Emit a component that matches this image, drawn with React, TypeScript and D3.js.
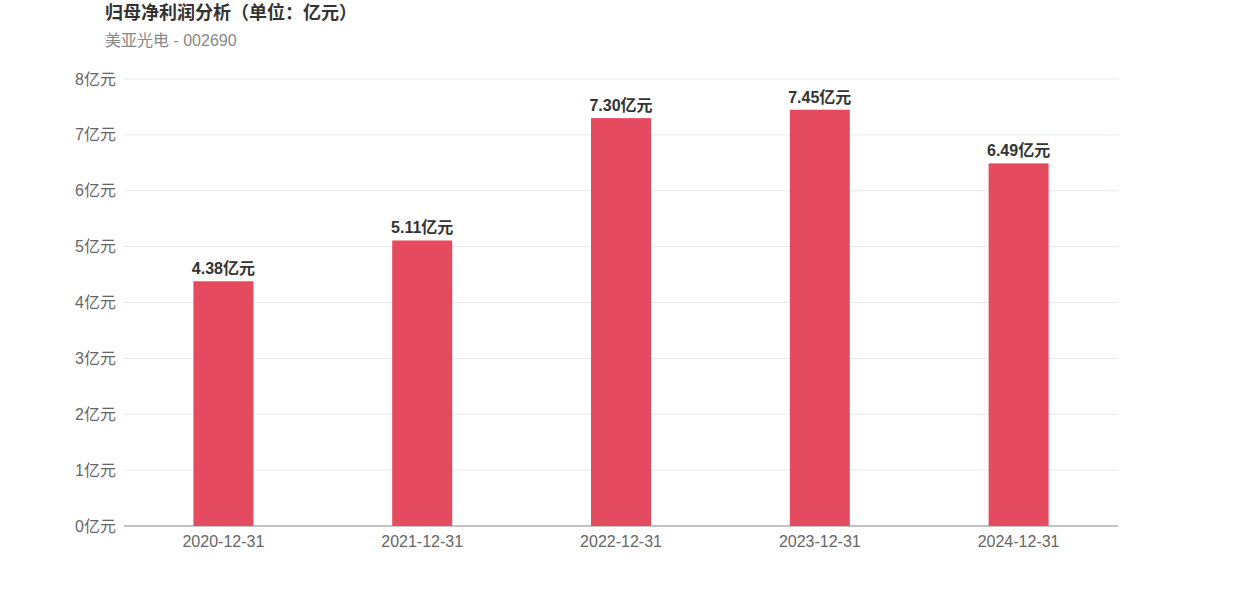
import React from "react";
import * as d3 from "d3";

const categories = ["2020-12-31", "2021-12-31", "2022-12-31", "2023-12-31", "2024-12-31"];
const values = [4.38, 5.11, 7.30, 7.45, 6.49];
const yTicks = [0, 1, 2, 3, 4, 5, 6, 7, 8];
const title = "归母净利润分析（单位：亿元）";
const subtitle = "美亚光电 - 002690";

const W = 1242, H = 596;
const FONT = "'Liberation Sans', Arial, 'Noto Sans CJK SC', sans-serif";

export default function App() {
  const x = d3.scaleBand<string>().domain(categories).range([124, 1118]).paddingInner(0.7).paddingOuter(0.35);
  const y = d3.scaleLinear().domain([0, 8]).range([526, 79]);
  const bw = 60;
  return (
    <svg width={W} height={H} style={{ position: "absolute", left: 0, top: 0, background: "#fff" }} fontFamily={FONT}>
      <text x={105} y={19} fontSize={18} fontWeight="bold" fill="#333">{title}</text>
      <text x={105} y={46} fontSize={16} fill="#888">{subtitle}</text>
      {yTicks.map((t) => (
        <g key={t}>
          {t > 0 && <line x1={124} x2={1118} y1={y(t)} y2={y(t)} stroke="#e6e9f0" strokeWidth={1} />}
          <text x={116} y={y(t)} dy="0.35em" textAnchor="end" fontSize={16} fill="#666">{t}亿元</text>
        </g>
      ))}
      {categories.map((c, i) => {
        const cx = (x(c) as number) + x.bandwidth() / 2;
        return (
          <g key={c}>
            <rect x={cx - bw / 2} y={y(values[i])} width={bw} height={y(0) - y(values[i])} fill="#e54b5e" />
            <text x={cx} y={y(values[i]) - 7} textAnchor="middle" fontSize={16} fontWeight="bold" fill="#333">{values[i].toFixed(2)}亿元</text>
            <text x={cx} y={547} textAnchor="middle" fontSize={16} fill="#666">{c}</text>
          </g>
        );
      })}
      <line x1={124} x2={1118} y1={y(0)} y2={y(0)} stroke="#888" strokeWidth={1.2} />
    </svg>
  );
}
